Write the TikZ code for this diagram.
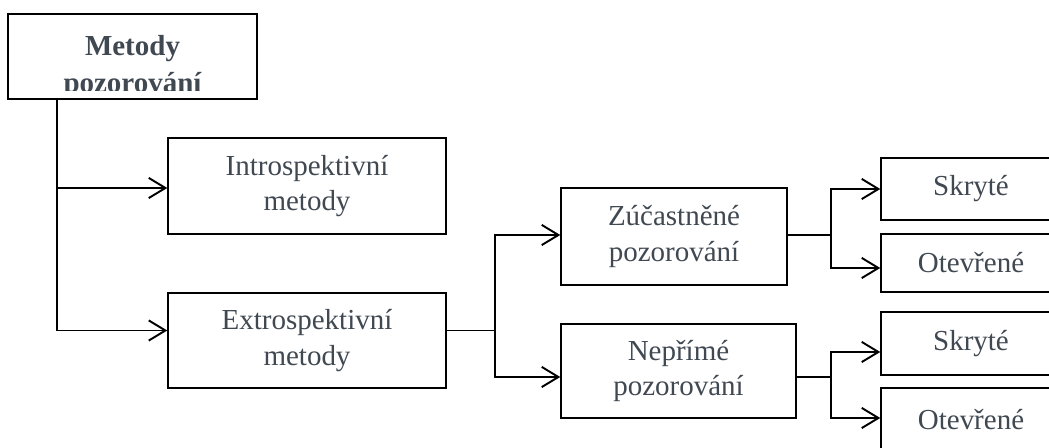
\documentclass[tikz,border=0pt]{standalone}
\usepackage{fontspec}
\setmainfont{Liberation Serif}
\usetikzlibrary{arrows.meta, calc}
\definecolor{slate}{RGB}{64,72,82}

\begin{document}
\begin{tikzpicture}[x=0.02cm, y=-0.02cm,
  box/.style={draw, line width=0.85pt, inner sep=0pt, align=center, text=slate,
    font=\fontsize{16.5}{20}\selectfont},
  link/.style={line width=1.1pt, -{Straight Barb[length=9.5pt, width=11.5pt]}}]
  \clip (0,0) rectangle (1049,448);

  % root box, its text is cut off at the bottom
  \node[box, minimum width=49.8mm, minimum height=17mm] (root) at (132.5,56.5) {};
  \begin{scope}
    \clip (root.north west) rectangle (257,91);
    \node[align=center, inner sep=0pt, text=slate,
      font=\fontsize{16.5}{21.5}\selectfont\bfseries] (rootlabel) at (132.5,67) {Metody\\pozorování};
  \end{scope}

  % first level
  \node[box, minimum width=55.6mm, minimum height=19.2mm] (intro) at (307,186) {Introspektivní\\metody};
  \node[box, minimum width=55.6mm, minimum height=19mm] (extro) at (307,340.5) {Extrospektivní\\metody};

  % second level
  \node[box, minimum width=45.2mm, minimum height=19.4mm] (zuc) at (674,236.5) {Zúčastněné\\pozorování};
  \node[box, minimum width=47mm, minimum height=18.8mm] (nep) at (678.5,371) {Nepřímé\\pozorování};

  % leaves
  \node[box, minimum width=36mm, minimum height=12.4mm] (skr1) at (971,189) {Skryté};
  \node[box, minimum width=36mm, minimum height=11.6mm] (ote1) at (971,263) {Otevřené};
  \node[box, minimum width=36mm, minimum height=12.6mm] (skr2) at (971,343.5) {Skryté};
  \node[box, minimum width=36mm, minimum height=12.8mm] (ote2) at (971,420) {Otevřené};

  % connectors
  \draw[link] ($(root.south west)+(50,0)$) coordinate (r0) |- ($(intro.west)+(0,2)$);
  \draw[link] (r0) |- ($(extro.west)+(0,-10)$);

  \draw[link] ($(extro.east)+(0,-10)$) -- ++(48,0) coordinate (e0) |- ($(zuc.west)+(0,-1.5)$);
  \draw[link] (e0) |- ($(nep.west)+(0,6)$);

  \draw[link] ($(zuc.east)+(0,-1.5)$) -- ++(43,0) coordinate (z0) |- (skr1.west);
  \draw[link] (z0) |- ($(ote1.west)+(0,5)$);

  \draw[link] ($(nep.east)+(0,6)$) -- ++(34,0) coordinate (n0) |- ($(skr2.west)+(0,8.5)$);
  \draw[link] (n0) |- ($(ote2.west)+(0,-2)$);
\end{tikzpicture}
\end{document}
